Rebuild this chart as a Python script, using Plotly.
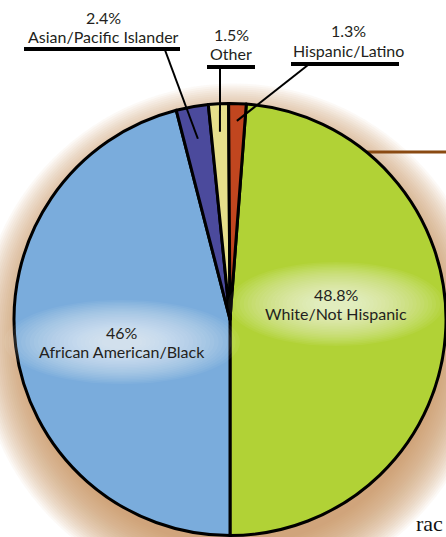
import numpy as np
import plotly.graph_objects as go

# Population shares by group (percent), drawn clockwise from the green/blue split
categories = ["White/Not Hispanic", "African American/Black",
              "Asian/Pacific Islander", "Other", "Hispanic/Latino"]
shares = [48.8, 46.0, 2.4, 1.5, 1.3]
slice_colors = ["#b1d236", "#7aacdc", "#4b4a9c", "#e6df8b", "#c1461f"]

# Which groups are labelled inside the pie and which get a callout above it
inside_groups = ["White/Not Hispanic", "African American/Black"]
callout_groups = ["Asian/Pacific Islander", "Other", "Hispanic/Latino"]

W, H = 446, 537
CX, CY, R = 230, 319.5, 216          # pie centre / radius in pixels (top-left origin)
FONT = "Lato"
INK = "#231f20"


def px(x):
    return x / W


def py(y):
    return 1 - y / H


total = sum(shares)
rotation = 180 - 360 * shares[0] / total
edges = rotation + 360 * np.concatenate([[0], np.cumsum(shares)]) / total
mid_angles = (edges[:-1] + edges[1:]) / 2


def on_pie(angle_deg, frac):
    a = np.radians(angle_deg)
    return CX + frac * R * np.sin(a), CY - frac * R * np.cos(a)


def pct(v):
    return f"{v:g}%"


fig = go.Figure(go.Pie(
    labels=categories,
    values=shares,
    sort=False,
    direction="clockwise",
    rotation=rotation,
    marker=dict(colors=slice_colors, line=dict(color="black", width=3)),
    textinfo="none",
    textposition="none",
    hoverinfo="label+percent",
    showlegend=False,
    domain=dict(x=[px(CX - R), px(CX + R)], y=[py(CY + R), py(CY - R)]),
))

shapes = []
annotations = []

# soft tan drop shadow behind the pie, pushed down and slightly right
sdx, sdy = 4, 20
for k in range(26):
    r = R - 10 + 2 * k
    shapes.append(dict(type="circle", xref="paper", yref="paper", layer="below",
                       x0=px(CX + sdx - r), x1=px(CX + sdx + r),
                       y0=py(CY + sdy + r), y1=py(CY + sdy - r),
                       line=dict(width=0), fillcolor="rgba(200,140,92,0.055)"))

# inside labels with a soft white glow behind them
inside_pos = {"White/Not Hispanic": (336, 304, 108, 42),
              "African American/Black": (122, 342, 118, 42)}
for name in inside_groups:
    i = categories.index(name)
    x, y, gw, gh = inside_pos[name]
    for k in range(24):
        s = 1 - 0.036 * k
        shapes.append(dict(type="circle", xref="paper", yref="paper", layer="above",
                           x0=px(x - gw * s), x1=px(x + gw * s),
                           y0=py(y + gh * s), y1=py(y - gh * s),
                           line=dict(width=0), fillcolor="rgba(255,255,255,0.05)"))
    annotations.append(dict(x=px(x), y=py(y - 10), text=pct(shares[i]), showarrow=False,
                            xref="paper", yref="paper", xanchor="center", yanchor="middle",
                            font=dict(family=FONT, size=16, color=INK)))
    annotations.append(dict(x=px(x), y=py(y + 9), text=name, showarrow=False,
                            xref="paper", yref="paper", xanchor="center", yanchor="middle",
                            font=dict(family=FONT, size=16, color=INK)))

# callouts: text centre, underline bar span/height, leader start, leader depth into slice
callout_layout = {
    "Asian/Pacific Islander": dict(cx=103, ty=18, bar=(24, 180, 49), start=(165, 50), depth=0.85),
    "Other": dict(cx=231, ty=34, bar=(207, 255, 67), start=(220, 68), depth=0.87),
    "Hispanic/Latino": dict(cx=348, ty=31, bar=(291, 399, 64), start=(308, 65), depth=0.92),
}
for name in callout_groups:
    i = categories.index(name)
    c = callout_layout[name]
    annotations.append(dict(x=px(c["cx"]), y=py(c["ty"]), text=pct(shares[i]), showarrow=False,
                            xref="paper", yref="paper", xanchor="center", yanchor="middle",
                            font=dict(family=FONT, size=16, color=INK)))
    annotations.append(dict(x=px(c["cx"]), y=py(c["ty"] + 19), text=name, showarrow=False,
                            xref="paper", yref="paper", xanchor="center", yanchor="middle",
                            font=dict(family=FONT, size=16, color=INK)))
    x0, x1, yb = c["bar"]
    shapes.append(dict(type="line", xref="paper", yref="paper", layer="above",
                       x0=px(x0), x1=px(x1), y0=py(yb), y1=py(yb),
                       line=dict(color="black", width=4)))
    ex, ey = on_pie(mid_angles[i], c["depth"])
    sx, sy = c["start"]
    shapes.append(dict(type="line", xref="paper", yref="paper", layer="above",
                       x0=px(sx), x1=px(ex), y0=py(sy), y1=py(ey),
                       line=dict(color="black", width=2)))

# brown rule running off the right side from the pie edge
rule_y = 152
rule_x0 = CX + np.sqrt(R ** 2 - (CY - rule_y) ** 2)
shapes.append(dict(type="line", xref="paper", yref="paper", layer="below",
                   x0=px(rule_x0), x1=1.0, y0=py(rule_y), y1=py(rule_y),
                   line=dict(color="#8a4a12", width=3)))

# start of the body text in the corner
annotations.append(dict(x=px(445), y=py(523), text="rac", showarrow=False,
                        xref="paper", yref="paper", xanchor="right", yanchor="middle",
                        font=dict(family="Liberation Serif", size=22, color="#111111")))

fig.update_layout(
    width=W, height=H,
    margin=dict(l=0, r=0, t=0, b=0),
    paper_bgcolor="white", plot_bgcolor="white",
    shapes=shapes, annotations=annotations,
)

fig.write_html("out.html")
